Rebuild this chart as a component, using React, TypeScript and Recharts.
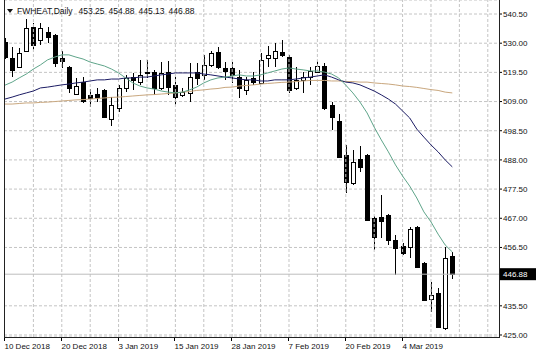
import React from "react"
import { ComposedChart, Bar, Line, XAxis, YAxis, CartesianGrid, ReferenceLine } from "recharts"

const FONT = '"Liberation Sans", Arial, sans-serif'

// x axis labels (bar index -> date)
const labelIdx = [0, 8, 16, 24, 32, 40, 48, 56]
const dateLabels = ["10 Dec 2018", "20 Dec 2018", "3 Jan 2019", "15 Jan 2019", "28 Jan 2019", "7 Feb 2019", "20 Feb 2019", "4 Mar 2019"]
const gridCols = [4, 8, 12, 16, 20, 24, 28, 32, 36, 40, 44, 48, 52, 56, 60, 64, 68]
const priceTicks = [425, 435.5, 456.5, 467, 477.5, 488, 498.5, 509, 519.5, 530, 540.5]
const lastPrice = 446.88
const headerSymbol = "FWHEAT,Daily"
const headerValues = ["453.25", "454.88", "445.13", "446.88"]

// daily candles
const opens = [
  530.6, 524.7, 521.4, 527.2, 535.8, 531.1, 534.0, 532.9, 524.7, 521.4,
  511.7, 516.0, 511.4, 511.7, 513.2, 502.7, 506.7, 513.9, 517.8, 516.0,
  519.3, 519.6, 513.9, 519.6, 515.0, 511.4, 512.1, 519.6, 518.6, 522.2,
  526.8, 521.1, 521.1, 517.8, 513.2, 517.5, 515.7, 524.7, 524.7, 526.8,
  525.0, 513.9, 516.8, 517.8, 519.6, 521.8, 507.8, 502.0, 489.8, 479.7,
  488.3, 489.8, 467.1, 467.5, 468.2, 459.2, 457.0, 456.7, 463.9, 450.9,
  438.0, 440.1, 427.5, 453.25,
]
const highs = [
  531.8, 528.6, 528.3, 538.7, 537.3, 537.3, 535.8, 533.3, 527.2, 521.8,
  517.5, 517.8, 513.5, 513.9, 513.5, 510.6, 515.0, 518.6, 519.3, 524.0,
  524.0, 520.4, 523.2, 523.6, 517.8, 513.9, 522.9, 522.9, 525.7, 527.2,
  528.6, 523.2, 523.2, 520.4, 517.8, 519.6, 526.5, 529.0, 530.1, 531.1,
  525.7, 521.4, 519.6, 521.4, 523.6, 522.9, 508.8, 504.5, 493.4, 491.6,
  493.0, 490.1, 467.8, 475.4, 468.5, 461.0, 458.1, 463.9, 464.2, 451.3,
  444.1, 441.9, 456.7, 454.88,
]
const lows = [
  524.3, 517.8, 521.1, 526.8, 527.5, 529.3, 530.1, 521.4, 521.1, 512.1,
  511.4, 508.5, 507.0, 508.8, 503.1, 500.2, 505.2, 512.4, 513.2, 515.0,
  517.5, 511.4, 513.2, 511.4, 507.8, 510.6, 508.8, 515.0, 516.8, 521.4,
  520.7, 516.8, 515.7, 510.3, 511.4, 515.0, 515.3, 521.4, 521.4, 525.0,
  512.1, 513.2, 512.1, 515.0, 519.3, 506.0, 498.8, 488.7, 476.1, 479.0,
  483.7, 466.0, 455.6, 459.9, 457.4, 446.6, 453.8, 452.7, 449.1, 437.2,
  433.3, 427.6, 426.8, 445.13,
]
const closes = [
  524.9, 520.4, 526.5, 535.5, 529.3, 535.5, 532.2, 522.9, 523.6, 513.9,
  514.6, 509.2, 510.3, 510.6, 503.4, 507.8, 513.9, 517.5, 516.8, 518.6,
  519.6, 513.9, 519.3, 514.3, 510.6, 512.4, 517.8, 517.5, 522.2, 526.5,
  521.4, 520.0, 518.6, 513.9, 516.8, 516.0, 524.0, 525.7, 527.2, 525.7,
  513.2, 516.8, 517.8, 520.0, 521.8, 506.7, 503.4, 489.0, 480.1, 487.2,
  485.5, 466.4, 460.3, 466.0, 459.2, 456.3, 454.5, 463.1, 449.5, 437.6,
  439.4, 427.9, 452.7, 446.88,
]

// moving averages as drawn on the chart
const maFast = [
  514.9, 516.0, 517.5, 518.9, 520.7, 522.2, 524.0, 525.0, 525.8, 525.8,
  525.0, 524.3, 523.2, 522.5, 521.8, 520.7, 519.3, 517.5, 515.7, 514.6,
  513.9, 513.5, 512.8, 512.4, 512.1, 512.4, 513.2, 514.2, 515.7, 516.8,
  517.5, 517.8, 518.2, 518.6, 518.2, 518.2, 518.6, 519.3, 520.0, 520.7,
  521.1, 520.7, 520.4, 520.0, 520.0, 519.6, 518.9, 517.5, 514.9, 512.1,
  508.8, 504.9, 499.8, 495.2, 490.9, 486.2, 482.2, 478.6, 474.3, 469.3,
  465.7, 461.3, 457.4, 454.9,
]
const maMid = [
  509.9, 510.6, 511.4, 512.1, 512.8, 513.9, 514.2, 514.6, 515.0, 515.3,
  515.7, 516.0, 516.4, 516.8, 516.8, 517.1, 517.1, 517.5, 517.5, 517.8,
  517.8, 518.2, 518.6, 518.9, 519.3, 519.3, 519.3, 519.3, 518.9, 518.6,
  518.2, 517.8, 517.5, 517.1, 516.8, 516.8, 516.4, 516.4, 516.8, 516.8,
  516.8, 517.1, 517.5, 517.8, 518.2, 518.6, 517.8, 516.8, 516.0, 515.7,
  515.0, 513.9, 512.8, 511.4, 509.9, 508.1, 505.6, 503.1, 499.1, 496.2,
  493.4, 490.9, 488.0, 485.5,
]
const maSlow = [
  508.1, 508.1, 508.3, 508.5, 508.5, 508.7, 508.8, 509.0, 509.2, 509.4,
  509.6, 509.7, 509.9, 510.1, 510.3, 510.5, 510.6, 510.8, 511.0, 511.2,
  511.4, 511.5, 511.7, 511.9, 512.1, 512.4, 512.6, 513.0, 513.2, 513.5,
  513.7, 514.1, 514.2, 514.6, 514.8, 515.0, 515.3, 515.5, 515.7, 515.9,
  516.0, 516.2, 516.4, 516.6, 516.6, 516.6, 516.4, 516.4, 516.2, 516.2,
  516.0, 516.0, 515.7, 515.5, 515.3, 515.0, 514.6, 514.4, 514.1, 513.7,
  513.3, 513.0, 512.4, 512.1,
]

const data = opens.map((o, i) => ({
  i,
  open: o,
  high: highs[i],
  low: lows[i],
  close: closes[i],
  range: [lows[i], highs[i]],
  fast: maFast[i],
  mid: maMid[i],
  slow: maSlow[i],
}))

function Candle(props: any) {
  const { x, y, width, height, payload } = props
  if (!payload) return null
  const top = Math.min(y, y + height)
  const bot = Math.max(y, y + height)
  const span = payload.high - payload.low || 1
  const toY = (v: number) => top + ((payload.high - v) / span) * (bot - top)
  const cx = Math.round(x + width / 2) + 0.5
  const yo = toY(payload.open)
  const yc = toY(payload.close)
  const bTop = Math.round(Math.min(yo, yc))
  const bBot = Math.max(Math.round(Math.max(yo, yc)), bTop + 1)
  const bull = payload.close >= payload.open
  return (
    <g>
      <line x1={cx} x2={cx} y1={Math.round(top)} y2={Math.round(bot)} stroke="#000" />
      <rect x={cx - 2} y={bTop + 0.5} width={4} height={bBot - bTop} fill={bull ? "#fff" : "#000"} stroke="#000" />
    </g>
  )
}

function DateTick(props: any) {
  const { x, y, payload } = props
  const k = labelIdx.indexOf(payload.value)
  if (k < 0) return null
  const tx = Math.round(x) - 0.5
  return (
    <g>
      <line x1={tx} x2={tx} y1={y - 6} y2={y - 2} stroke="#000" />
      <text x={tx} y={y} dy="0.71em" fontSize={8} fontFamily={FONT} fill="#111" textAnchor="start">
        {dateLabels[k]}
      </text>
    </g>
  )
}

function PriceTag(props: any) {
  const vb = props.viewBox || {}
  const lx = vb.x + vb.width + 1
  const ly = vb.y
  return (
    <g>
      <rect x={lx} y={ly - 6} width={36} height={12} fill="#000" />
      <text x={lx + 3} y={ly} dy="0.35em" fontSize={8} fontFamily={FONT} fill="#fff">
        {lastPrice.toFixed(2)}
      </text>
    </g>
  )
}

export default function App() {
  return (
    <div style={{ position: "absolute", left: 0, top: 0, width: 536, height: 358, background: "#fff" }}>
      <ComposedChart width={536} height={358} data={data} margin={{ top: 0, right: 0, bottom: 0, left: 4 }}>
        <CartesianGrid vertical={false} stroke="#c4c4c4" strokeDasharray="3 2" />
        {gridCols.map((c) => (
          <ReferenceLine key={c} x={c} stroke="#c4c4c4" strokeDasharray="3 2" />
        ))}
        <XAxis
          type="number"
          dataKey="i"
          domain={[-0.14, 69.58]}
          allowDataOverflow
          ticks={[0, ...gridCols]}
          interval={0}
          height={21}
          axisLine={false}
          tickLine={false}
          tickSize={4}
          tickMargin={2}
          tick={<DateTick />}
        />
        <YAxis
          orientation="right"
          width={37}
          domain={[424.28, 545.54]}
          allowDataOverflow
          ticks={priceTicks}
          interval={0}
          axisLine={false}
          tickSize={3}
          tickMargin={1}
          tickLine={{ stroke: "#000" }}
          tick={{ fontSize: 8, fontFamily: FONT, fill: "#111" }}
          tickFormatter={(v: number) => v.toFixed(2)}
        />
        <ReferenceLine y={lastPrice} stroke="#bdbdbd" label={(p: any) => <PriceTag {...p} />} />
        <Bar dataKey="range" barSize={5} shape={<Candle />} isAnimationActive={false} />
        <Line type="linear" dataKey="slow" stroke="#c9a77e" strokeWidth={1} dot={false} isAnimationActive={false} />
        <Line type="linear" dataKey="mid" stroke="#1c1c64" strokeWidth={1} dot={false} isAnimationActive={false} />
        <Line type="linear" dataKey="fast" stroke="#5fa58a" strokeWidth={1} dot={false} isAnimationActive={false} />
      </ComposedChart>
      <div
        style={{
          position: "absolute",
          left: 4,
          top: 0,
          width: 496,
          height: 338,
          boxSizing: "border-box",
          borderLeft: "1px solid #222",
          borderRight: "1px solid #222",
          borderBottom: "1px solid #222",
          pointerEvents: "none",
        }}
      />
      <div
        style={{
          position: "absolute",
          left: 7,
          top: 6,
          fontFamily: FONT,
          fontSize: 8.5,
          lineHeight: "10px",
          color: "#111",
          whiteSpace: "nowrap",
          display: "flex",
          alignItems: "center",
        }}
      >
        <svg width={6} height={5} style={{ marginRight: 4 }}>
          <polygon points="0,0 6,0 3,4" fill="#111" />
        </svg>
        <span>{headerSymbol}</span>
        {headerValues.map((v, k) => (
          <span key={k} style={{ marginLeft: k === 0 ? 6 : 4 }}>
            {v}
          </span>
        ))}
      </div>
    </div>
  )
}
